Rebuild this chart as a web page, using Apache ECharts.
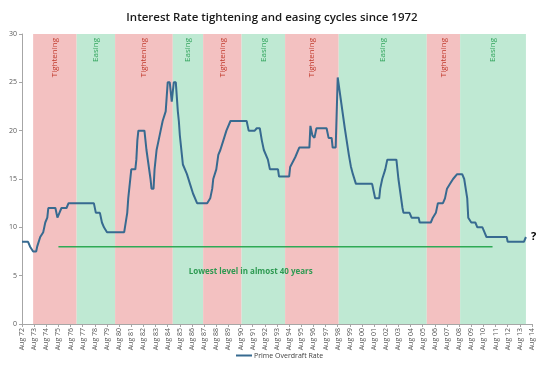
<!DOCTYPE html>
<html><head><meta charset="utf-8">
<script src="https://cdn.jsdelivr.net/npm/echarts@6/dist/echarts.min.js"></script>
<style>html,body{margin:0;padding:0;background:#fff}#c{width:544px;height:372px}</style>
</head><body><div id="c"></div>
<script>
// ---- data ----
const rateDates = ['1972-08','1973-02','1973-04','1973-07','1973-10','1973-11','1974-02','1974-05','1974-07','1974-09','1974-10','1975-05','1975-07','1975-09','1975-11','1976-04','1976-06','1978-07','1978-09','1979-01','1979-03','1979-05','1979-08','1981-01','1981-04','1981-05','1981-08','1981-12','1982-01','1982-02','1982-03','1982-09','1982-11','1983-03','1983-04','1983-06','1983-07','1983-09','1983-11','1984-01','1984-03','1984-06','1984-07','1984-08','1984-10','1984-12','1985-02','1985-04','1985-06','1985-07','1985-08','1985-10','1985-11','1986-03','1986-06','1986-09','1987-01','1987-11','1988-02','1988-04','1988-05','1988-08','1988-10','1988-12','1989-03','1989-06','1989-10','1991-02','1991-04','1991-10','1991-12','1992-03','1992-05','1992-07','1992-11','1993-01','1993-09','1993-10','1994-08','1994-09','1995-02','1995-06','1996-04','1996-05','1996-07','1996-09','1996-11','1997-09','1997-11','1998-02','1998-03','1998-06','1998-08','1998-12','1999-03','1999-07','1999-09','1999-11','2000-02','2001-06','2001-08','2001-09','2002-01','2002-02','2002-04','2002-07','2002-09','2003-06','2003-08','2003-10','2003-12','2004-01','2004-07','2004-09','2005-04','2005-05','2006-04','2006-06','2006-09','2006-11','2007-04','2007-06','2007-08','2007-11','2008-02','2008-06','2008-11','2009-01','2009-04','2009-05','2009-08','2009-12','2010-02','2010-07','2010-09','2010-11','2012-07','2012-08','2013-12','2014-02'];
const rateValues = [8.5,8.5,8.0,7.5,7.5,8.0,9.0,9.5,10.5,11,12,12,11,11.5,12,12,12.5,12.5,11.5,11.5,10.5,10,9.5,9.5,11.5,13,16,16,17,19,20,20,18,15,14,14,16,18,19,20,21,22,23.5,25,25,23,25,25,22,21,19.5,17.5,16.5,15.5,14.5,13.5,12.5,12.5,13,14,15,16,17.5,18,19,20,21,21,20,20,20.25,20.25,19,18,17,16,16,15.25,15.25,16.25,17.25,18.25,18.25,20.5,19.5,19.25,20.25,20.25,19.25,19.25,18.25,18.25,25.5,22.5,20.25,17.5,16.3,15.5,14.5,14.5,13.5,13,13,14,15,16,17,17,15,13.5,12,11.5,11.5,11,11,10.5,10.5,11,11.5,12.5,12.5,13,14,14.5,15,15.5,15.5,15,13,11,10.5,10.5,10,10,9.5,9,9,8.5,8.5,9];

const bandNames  = ['Tightening','Easing','Tightening','Easing','Tightening','Easing','Tightening','Easing','Tightening','Easing'];
const bandStarts = ['1973-07','1977-02','1980-04','1985-01','1987-07','1990-09','1994-04','1998-09','2005-12','2008-09'];
const bandEnds   = ['1977-02','1980-04','1985-01','1987-07','1990-09','1994-04','1998-09','2005-12','2008-09','2014-02'];

const lowestDates = ['1975-08','2011-05'];
const lowestLevel = 8;

const yTicks = [0,5,10,15,20,25,30];
const seriesName = 'Prime Overdraft Rate';
const titleText = 'Interest Rate tightening and easing cycles since 1972';
const noteText = 'Lowest level in almost 40 years';

// ---- helpers ----
function idx(s){ const p = s.split('-').map(Number); return (p[0]-1972)*12 + (p[1]-8); }
const rateData = rateDates.map((d,i)=>[idx(d), rateValues[i]]);
const lowestData = lowestDates.map(d=>[idx(d), lowestLevel]);

const PINK = '#f3c1c1', GREEN = '#bfe9d3';
const bandData = bandNames.map((n,i)=>{
  const t = n === 'Tightening';
  return [{
    name: n, xAxis: idx(bandStarts[i]),
    itemStyle: {color: t ? PINK : GREEN},
    label: {color: t ? '#c0392b' : '#2fa35a'}
  }, {xAxis: idx(bandEnds[i])}];
});

const chart = echarts.init(document.getElementById('c'), null, {renderer:'canvas'});
chart.setOption({
  animation: false,
  textStyle: {fontFamily: 'Open Sans'},
  title: {
    text: titleText, left: 'center', top: 7,
    textStyle: {fontFamily: 'Open Sans', fontSize: 11.5, fontWeight: 600, color: '#1a1a1a'}
  },
  legend: {
    bottom: 8, left: 231, data: [seriesName],
    icon: 'rect', itemWidth: 16, itemHeight: 2, itemGap: 2,
    textStyle: {fontFamily: 'Open Sans', fontSize: 7, color: '#404040', padding: [0,0,0,-3]}
  },
  grid: {left: 22, right: 12, top: 34, bottom: 48, containLabel: false, outerBoundsMode: 'none'},
  xAxis: {
    type: 'value', min: 0, max: 504, interval: 12,
    axisLine: {show: true, lineStyle: {color: '#a6a6a6'}},
    axisTick: {show: true, length: 3, lineStyle: {color: '#a6a6a6'}},
    splitLine: {show: false},
    axisLabel: {
      rotate: 90, fontSize: 7, color: '#595959', margin: 4,
      formatter: v => 'Aug ' + String((72 + Math.round(v/12)) % 100).padStart(2,'0')
    }
  },
  yAxis: {
    type: 'value', min: yTicks[0], max: yTicks[yTicks.length-1], interval: 5,
    axisLine: {show: true, lineStyle: {color: '#a6a6a6'}},
    axisTick: {show: true, length: 3, lineStyle: {color: '#a6a6a6'}},
    splitLine: {show: false},
    axisLabel: {fontSize: 7, color: '#595959', margin: 5}
  },
  series: [{
    name: seriesName, type: 'line', data: rateData,
    showSymbol: false, symbol: 'none', z: 5,
    lineStyle: {color: '#376a90', width: 2},
    itemStyle: {color: '#376a90'},
    markArea: {
      silent: true,
      label: {
        show: true, position: 'insideTop', rotate: 90, align: 'right',
        verticalAlign: 'middle', distance: 4, fontSize: 8, fontFamily: 'Open Sans'
      },
      data: bandData
    },
    markPoint: {
      symbol: 'circle', symbolSize: 0, silent: true,
      label: {show: true, position: 'right', distance: 5, formatter: '?',
        fontSize: 11, fontWeight: 'bold', color: '#000'},
      data: [{coord: rateData[rateData.length-1]}]
    }
  }, {
    name: 'lowest', type: 'line', data: lowestData,
    showSymbol: false, symbol: 'none', z: 4,
    lineStyle: {color: '#2eaa55', width: 1.5},
    markPoint: {
      symbol: 'circle', symbolSize: 0, silent: true,
      label: {show: true, position: 'inside', formatter: noteText,
        fontSize: 8, fontWeight: 'bold', color: '#2e9a52', fontFamily: 'Open Sans'},
      data: [{coord: [idx('1991-06'), 5.4]}]
    }
  }]
});
</script>
</body></html>
